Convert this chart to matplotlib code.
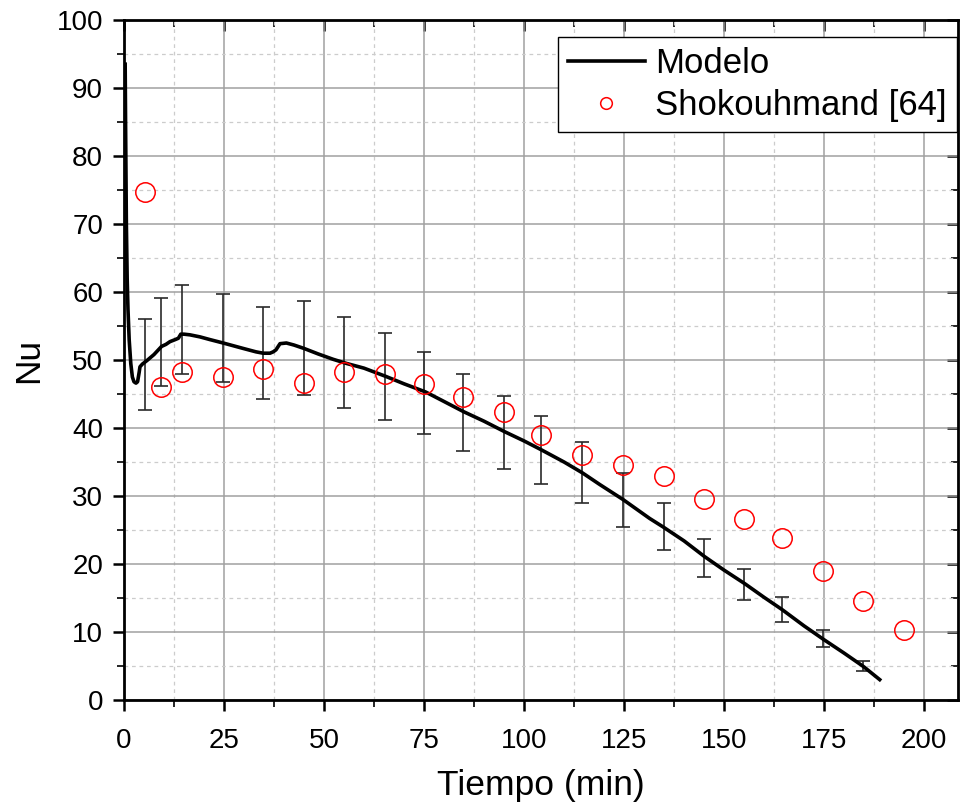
import numpy as np
import matplotlib.pyplot as plt
from matplotlib.ticker import MultipleLocator

plt.rcParams['font.family'] = ['Liberation Sans', 'DejaVu Sans']

# model curve (min, Nu)
t_model = [0.3, 0.4, 0.6, 0.8, 1.0, 1.3, 1.7, 2.1, 2.5, 3.0, 3.4, 3.8, 4.0, 4.6, 5.7,
           7.5, 9.4, 10.5, 11.5, 12.8, 13.6, 14.2, 15.0, 16.5, 19.0, 21.5, 24.8,
           29.8, 33.0, 34.8, 36.5, 37.3, 38.0, 39.0, 40.6, 42.5, 45.0, 48.5, 52.3,
           55.6, 60.0, 65.4, 70.0, 75.4, 80.0, 84.9, 90.0, 95.0, 100.0, 104.3,
           110.0, 114.6, 118.9, 124.7, 131.4, 134.9, 140.0, 145.1, 150.0, 155.2,
           160.0, 164.5, 170.0, 174.9, 180.0, 184.9, 188.9]
nu_model = [93.5, 85.0, 70.0, 62.0, 57.5, 53.0, 49.5, 47.5, 46.8, 46.6, 46.8, 48.2,
            49.0, 49.4, 49.9, 50.8, 52.0, 52.3, 52.7, 53.0, 53.2, 53.8, 53.8, 53.7,
            53.4, 53.0, 52.5, 51.7, 51.2, 51.0, 51.0, 51.2, 51.5, 52.4, 52.5, 52.2,
            51.7, 50.9, 50.1, 49.5, 48.8, 47.6, 46.5, 45.3, 43.9, 42.4, 41.0, 39.5,
            38.1, 36.8, 35.0, 33.4, 31.7, 29.5, 26.7, 25.4, 23.4, 21.1, 19.1, 17.1,
            15.1, 13.3, 10.9, 8.9, 6.9, 4.9, 3.0]

# Shokouhmand [64] data
t_exp = [5.2, 9.3, 14.6, 24.8, 34.8, 45.0, 55.1, 65.2, 74.9, 84.8, 94.9, 104.3,
         114.5, 124.7, 134.9, 145.0, 155.1, 164.6, 174.7, 184.7, 195.0]
nu_exp = [74.7, 46.1, 48.3, 47.5, 48.7, 46.6, 48.3, 48.0, 46.4, 44.5, 42.3, 39.0,
          36.0, 34.5, 33.0, 29.5, 26.6, 23.8, 19.0, 14.5, 10.3]

# error bars on the model (lower, upper)
err_low = [42.7, 46.2, 47.9, 46.8, 44.2, 44.8, 42.9, 41.2, 39.1, 36.6, 34.0, 31.8,
           29.0, 25.5, 22.0, 18.1, 14.7, 11.5, 7.8, 4.3]
err_high = [56.0, 59.1, 61.0, 59.7, 57.8, 58.7, 56.3, 53.9, 51.2, 47.9, 44.7, 41.7,
            38.0, 33.4, 28.9, 23.7, 19.3, 15.1, 10.3, 5.7]

fig = plt.figure(figsize=(9.61, 8.09), dpi=100)
ax = fig.add_axes([0.129, 0.1347, 0.868, 0.8406])

ax.set_xlim(0, 208.5)
ax.set_ylim(0, 100)
ax.xaxis.set_major_locator(MultipleLocator(25))
ax.xaxis.set_minor_locator(MultipleLocator(12.5))
ax.yaxis.set_major_locator(MultipleLocator(10))
ax.yaxis.set_minor_locator(MultipleLocator(5))

ax.grid(which='major', color='#a0a0a0', lw=1.1, ls='-')
ax.grid(which='minor', color='#cccccc', lw=0.9, ls=(0, (3, 3)))
ax.set_axisbelow(True)

# error bars centred between low/high
xb = np.array(t_exp[:len(err_low)])
lo = np.array(err_low)
hi = np.array(err_high)
mid = (lo + hi) / 2
ax.errorbar(xb, mid, yerr=[mid - lo, hi - mid], fmt='none', ecolor='#2a2a2a',
            elinewidth=1.2, capsize=5, capthick=1.2, zorder=2)

ax.plot(t_model, nu_model, color='black', lw=2.6, label='Modelo', zorder=3)
ax.plot(t_exp, nu_exp, ls='none', marker='o', ms=14, mfc='none', mec='red',
        mew=1.1, label='Shokouhmand [64]', zorder=4)

for s in ax.spines.values():
    s.set_linewidth(2)
ax.tick_params(which='major', direction='out', length=8, width=1.8, labelsize=20)
ax.tick_params(which='minor', direction='out', length=5, width=1.2)
ax.tick_params(axis='x', which='major', pad=12)
ax.tick_params(axis='y', which='major', pad=7)

sec_x = ax.secondary_xaxis('top')
sec_x.xaxis.set_major_locator(MultipleLocator(25))
sec_x.xaxis.set_minor_locator(MultipleLocator(12.5))
sec_x.tick_params(which='major', direction='in', length=8, width=1.8, labeltop=False)
sec_x.tick_params(which='minor', direction='in', length=5, width=1.2)
sec_y = ax.secondary_yaxis('right')
sec_y.yaxis.set_major_locator(MultipleLocator(10))
sec_y.yaxis.set_minor_locator(MultipleLocator(5))
sec_y.tick_params(which='major', direction='in', length=8, width=1.8, labelright=False)
sec_y.tick_params(which='minor', direction='in', length=5, width=1.2)

ax.set_xlabel('Tiempo (min)', fontsize=25.5, labelpad=11)
ax.set_ylabel('Nu', fontsize=25.5, labelpad=8)

leg = ax.legend(loc='upper right', bbox_to_anchor=(0.9988, 0.975), borderaxespad=0,
                fontsize=25, frameon=True, fancybox=False, edgecolor='black',
                framealpha=1, borderpad=0.3, handlelength=2.2, handletextpad=0.3,
                labelspacing=0.25, markerscale=0.6)
leg.get_frame().set_linewidth(1.0)

fig.savefig('out.png', dpi=100)
